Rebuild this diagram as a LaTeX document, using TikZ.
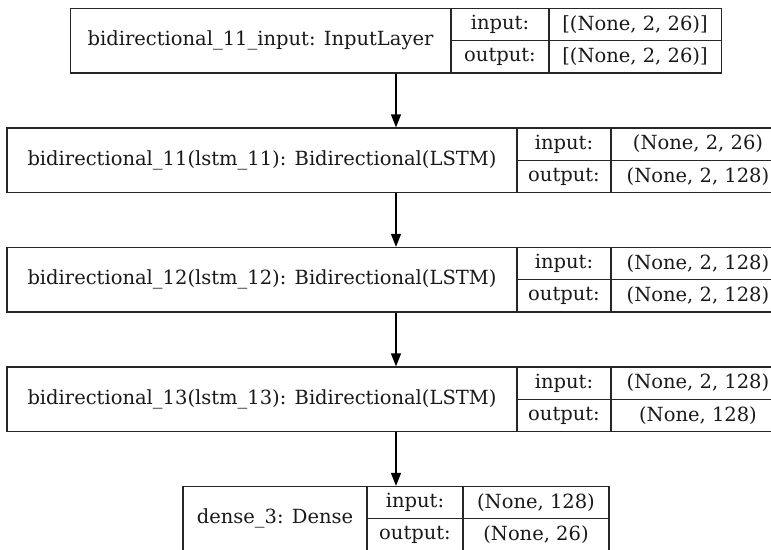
\documentclass[tikz,border=0pt]{standalone}
\usepackage{fontspec}
\setmainfont{DejaVu Serif}
\usetikzlibrary{arrows.meta}
\begin{document}
\begin{tikzpicture}[x=1pt,y=-1pt,
  layerbox/.style={draw=black!85, line width=1.3pt, inner sep=0pt, minimum height=64.5pt},
  cell/.style={draw=black!85, line width=1.3pt},
  txt/.style={font=\fontsize{19.5}{23}\selectfont, inner sep=0pt, text=black!90},
  flow/.style={draw=black, line width=1.3pt, -{Triangle[width=10pt,length=13pt]}}]
\useasboundingbox (0,0) rectangle (771,549);
\clip (0,0) rectangle (771,549);

% layer outlines
\node[layerbox, minimum width=651pt] (b1) at (396,40.75) {};
\node[layerbox, minimum width=778pt] (b2) at (396,160.25) {};
\node[layerbox, minimum width=778pt] (b3) at (396,279.75) {};
\node[layerbox, minimum width=778pt] (b4) at (396,399.25) {};
\node[layerbox, minimum width=426pt] (b5) at (396,518.75) {};

% table dividers
\draw[cell] (451,8.5) -- (451,73) (549,8.5) -- (549,73) (451,40.75) -- (721.5,40.75);
\foreach \t in {128,247.5,367}{
  \draw[cell] (517,\t) -- (517,\t+64.5) (611,\t) -- (611,\t+64.5) (517,\t+32.25) -- (785,\t+32.25);
}
\draw[cell] (367,486.5) -- (367,551) (463,486.5) -- (463,551) (367,518.75) -- (609,518.75);

% layer 1
\node[txt] (l1) at (260.5,40.75) {bidirectional\_11\_input: InputLayer};
\node[txt] (i1) at (500,24.6) {input:};
\node[txt] (o1) at (500,56.9) {output:};
\node[txt] (vi1) at (635,24.6) {[(None, 2, 26)]};
\node[txt] (vo1) at (635,56.9) {[(None, 2, 26)]};

% layer 2
\node[txt] (l2) at (262,160.25) {bidirectional\_11(lstm\_11): Bidirectional(LSTM)};
\node[txt] (i2) at (564,144.1) {input:};
\node[txt] (o2) at (564,176.4) {output:};
\node[txt] (vi2) at (698,144.1) {(None, 2, 26)};
\node[txt] (vo2) at (698,176.4) {(None, 2, 128)};

% layer 3
\node[txt] (l3) at (262,279.75) {bidirectional\_12(lstm\_12): Bidirectional(LSTM)};
\node[txt] (i3) at (564,263.6) {input:};
\node[txt] (o3) at (564,295.9) {output:};
\node[txt] (vi3) at (698,263.6) {(None, 2, 128)};
\node[txt] (vo3) at (698,295.9) {(None, 2, 128)};

% layer 4
\node[txt] (l4) at (262,399.25) {bidirectional\_13(lstm\_13): Bidirectional(LSTM)};
\node[txt] (i4) at (564,383.1) {input:};
\node[txt] (o4) at (564,415.4) {output:};
\node[txt] (vi4) at (698,383.1) {(None, 2, 128)};
\node[txt] (vo4) at (698,415.4) {(None, 128)};

% layer 5
\node[txt] (l5) at (275,518.75) {dense\_3: Dense};
\node[txt] (i5) at (415,502.6) {input:};
\node[txt] (o5) at (415,534.9) {output:};
\node[txt] (vi5) at (536,502.6) {(None, 128)};
\node[txt] (vo5) at (536,534.9) {(None, 26)};

% data flow
\draw[flow] (b1.south) -- (b2.north);
\draw[flow] (b2.south) -- (b3.north);
\draw[flow] (b3.south) -- (b4.north);
\draw[flow] (b4.south) -- (b5.north);
\end{tikzpicture}
\end{document}
